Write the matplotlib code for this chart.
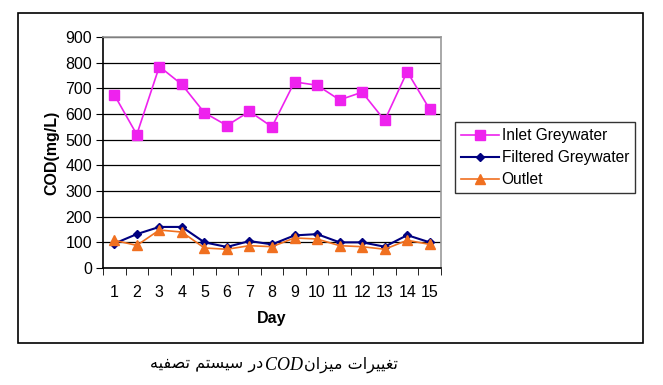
import matplotlib
matplotlib.use("Agg")
import matplotlib.pyplot as plt
from matplotlib.patches import Rectangle

days = list(range(1, 16))
day_labels = [str(d) for d in days]
inlet = [675, 520, 785, 715, 605, 555, 610, 550, 725, 712, 655, 685, 575, 765, 618]
filtered = [95, 132, 160, 160, 100, 82, 105, 92, 127, 132, 100, 100, 83, 128, 100]
outlet = [108, 88, 148, 140, 78, 73, 87, 83, 117, 113, 87, 83, 73, 108, 92]
y_ticks = list(range(0, 1000, 100))

# caption "تغییرات میزان COD در سیستم تصفیه" written in shaped presentation forms,
# visual order left to right (matplotlib has no bidi / shaping)
w_tasfie = "\uFEEA\uFBFF\uFED4\uFEBC\uFE97"
w_system = "\uFEE2\uFE98\uFEB4\uFBFF\uFEB3"
w_dar = "\uFEAD\uFEA9"
w_mizan = "\uFEE5\uFE8D\uFEB0\uFBFF\uFEE3"
w_taghirat = "\uFE95\uFE8D\uFEAE\uFBFF\uFBFF\uFED0\uFE97"
cap_left = " ".join([w_tasfie, w_system, w_dar])
cap_right = " ".join([w_mizan, w_taghirat])

plt.rcParams['font.family'] = ['Liberation Sans', 'DejaVu Sans']

fig = plt.figure(figsize=(6.63, 3.85), dpi=100)
ax = fig.add_axes([103/663, 1 - 268/385, 338/663, 231/385])

ax.plot(days, inlet, color='#ee22ee', marker='s', markersize=6.5, lw=1.2, label='Inlet Greywater')
ax.plot(days, filtered, color='#000080', marker='D', markersize=4.5, lw=1.5, label='Filtered Greywater')
ax.plot(days, outlet, color='#f07020', marker='^', markersize=7, lw=1.2, label='Outlet')

ax.set_xlim(0.5, 15.5)
ax.set_ylim(0, 900)
ax.set_yticks(y_ticks)
ax.set_xticks(days)
ax.set_xticklabels(day_labels)
ax.set_xticks([d + 0.5 for d in range(0, 16)], minor=True)
ax.tick_params(axis='x', which='major', length=0, pad=12, labelsize=11.5)
ax.tick_params(axis='x', which='minor', length=5, direction='out', color='black')
ax.tick_params(axis='y', length=5, direction='out', labelsize=11.5, pad=3)
ax.grid(axis='y', color='black', lw=0.9)
ax.set_axisbelow(True)
ax.spines['top'].set_color('#999999')
ax.spines['right'].set_color('#999999')
ax.spines['left'].set_color('black')
ax.spines['bottom'].set_color('black')
for s in ax.spines.values():
    s.set_linewidth(1.2)

ax.set_xlabel('Day', fontsize=11.5, fontweight='bold', labelpad=8)
ax.set_ylabel('COD(mg/L)', fontsize=11.5, fontweight='bold', labelpad=4)

leg = ax.legend(loc='upper left', bbox_to_anchor=(455/663, 1 - 122/385),
                bbox_transform=fig.transFigure, fontsize=11.2, frameon=True, fancybox=False,
                edgecolor='black', borderpad=0.4, handlelength=2.4, handletextpad=0.2,
                labelspacing=0.45, borderaxespad=0)
leg.get_frame().set_linewidth(1.0)

# outer frame round the chart
fig.patches.append(Rectangle((18/663, 1 - 343/385), 625/663, 330/385, transform=fig.transFigure,
                             fill=False, edgecolor='black', lw=1.2))

# caption in three pieces: Persian words around an italic serif "COD"
cy = 1 - 365/385
fig.text(263/663, cy, cap_left, ha='right', va='center', fontsize=11.5, family=['DejaVu Sans'])
fig.text(265/663, cy, 'COD', ha='left', va='center', fontsize=13, family=['Liberation Serif'], style='italic')
fig.text(304/663, cy, cap_right, ha='left', va='center', fontsize=11.5, family=['DejaVu Sans'])

fig.savefig('out.png', dpi=100)
